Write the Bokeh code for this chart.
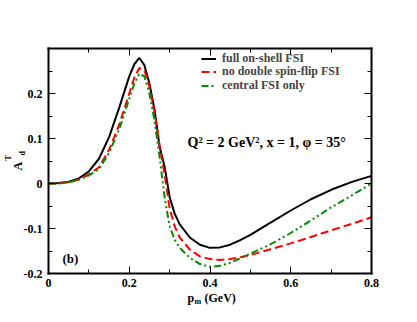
import math
from bokeh.plotting import figure
from bokeh.models import (Range1d, FixedTicker, LinearAxis, Label, Legend, LegendItem)
from bokeh.embed import file_html
from bokeh.resources import INLINE

# ---- data ----
pm = [0.0, 0.025, 0.05, 0.075, 0.1, 0.125, 0.15, 0.175, 0.2, 0.2125, 0.225, 0.2375,
      0.25, 0.2625, 0.275, 0.2875, 0.3, 0.3125, 0.325, 0.35, 0.375, 0.4, 0.425, 0.45,
      0.475, 0.5, 0.55, 0.6, 0.65, 0.7, 0.75, 0.8]
a_full = [0.0, 0.001, 0.004, 0.011, 0.027, 0.055, 0.103, 0.168, 0.238, 0.265, 0.279, 0.263,
          0.222, 0.165, 0.082, 0.038, -0.03, -0.067, -0.091, -0.12, -0.136, -0.143, -0.142, -0.136,
          -0.126, -0.114, -0.087, -0.06, -0.035, -0.014, 0.003, 0.017]
a_nodsf = [0.0, 0.0, 0.003, 0.009, 0.02, 0.036, 0.075, 0.13, 0.2, 0.235, 0.257, 0.252,
           0.215, 0.16, 0.085, 0.02, -0.055, -0.095, -0.12, -0.147, -0.162, -0.168, -0.17, -0.168,
           -0.164, -0.159, -0.146, -0.133, -0.119, -0.104, -0.09, -0.075]
a_central = [0.0, 0.0, 0.003, 0.008, 0.018, 0.032, 0.068, 0.12, 0.188, 0.222, 0.244, 0.238,
             0.2, 0.14, 0.06, -0.03, -0.095, -0.125, -0.143, -0.165, -0.179, -0.185, -0.183, -0.176,
             -0.166, -0.156, -0.135, -0.11, -0.082, -0.053, -0.027, 0.0]

labels = ["full on-shell FSI", "no double spin-flip FSI", "central FSI only"]
x_ticks = [0.0, 0.2, 0.4, 0.6, 0.8]
x_minor = [0.1, 0.3, 0.5, 0.7]
x_tick_labels = ["0", "0.2", "0.4", "0.6", "0.8"]
y_ticks = [-0.2, -0.1, 0.0, 0.1, 0.2]
y_minor = [-0.15, -0.05, 0.05, 0.15, 0.25]
y_tick_labels = ["-0.2", "-0.1", "0", "0.1", "0.2"]
X_LIM = (0.0, 0.8)
Y_LIM = (-0.2, 0.3)

FONT = "Liberation Serif"

# ---- layout (pixels) ----
W, H = 409, 314
BOX_L, BOX_R, BOX_T, BOX_B = 48, 371, 48, 273
sx = (BOX_R - BOX_L) / (X_LIM[1] - X_LIM[0])
sy = (BOX_B - BOX_T) / (Y_LIM[1] - Y_LIM[0])
x_range = Range1d(X_LIM[0] - BOX_L / sx, X_LIM[1] + (W - BOX_R) / sx)
y_range = Range1d(Y_LIM[0] - (H - BOX_B) / sy, Y_LIM[1] + BOX_T / sy)

p = figure(frame_width=W, frame_height=H, output_backend="svg", toolbar_location=None,
           x_range=x_range, y_range=y_range, x_axis_type=None, y_axis_type=None,
           min_border=0)
p.outline_line_color = None
p.background_fill_color = "white"
p.border_fill_color = "white"

xt = FixedTicker(ticks=x_ticks, minor_ticks=x_minor)
yt = FixedTicker(ticks=y_ticks, minor_ticks=y_minor)

def make_axis(ticker, lab, loc, bounds, show):
    ax = LinearAxis(ticker=ticker, fixed_location=loc, bounds=bounds)
    ax.axis_line_width = 2
    ax.axis_line_color = "black"
    ax.axis_line_cap = "square"
    ax.major_tick_in = 7
    ax.major_tick_out = 0
    ax.minor_tick_in = 4
    ax.minor_tick_out = 0
    ax.major_tick_line_width = 1
    ax.minor_tick_line_width = 1
    ax.major_label_text_font = FONT
    ax.major_label_text_font_style = "bold"
    ax.major_label_text_font_size = "12px"
    ax.major_label_text_color = "black"
    ax.major_label_overrides = {t: (l if show else "") for t, l in zip(ticker.ticks, lab)}
    return ax

bottom = make_axis(xt, x_tick_labels, Y_LIM[0], X_LIM, True)
bottom.major_label_standoff = 5
left = make_axis(yt, y_tick_labels, X_LIM[0], Y_LIM, True)
left.major_label_standoff = 6
top = make_axis(xt, x_tick_labels, Y_LIM[1], X_LIM, False)
right = make_axis(yt, y_tick_labels, X_LIM[1], Y_LIM, False)
p.add_layout(bottom, "below")
p.add_layout(left, "left")
p.add_layout(top, "above")
p.add_layout(right, "right")

r1 = p.line(pm, a_full, line_color="black", line_width=2)
r2 = p.line(pm, a_nodsf, line_color="#ff0000", line_width=2, line_dash="8 4")
r3 = p.line(pm, a_central, line_color="#008b00", line_width=2, line_dash="7 3 2 3 2 3")

# one legend per row so that each row sits where the reference puts it
for lbl, rend, bottom_px in zip(labels, [r1, r2, r3], [66, 79, 93]):
    lg = Legend(items=[LegendItem(label=lbl, renderers=[rend])],
                location=(201, H - bottom_px), glyph_width=15, glyph_height=13, label_height=13,
                spacing=0, padding=0, margin=0, label_standoff=6,
                label_text_font=FONT, label_text_font_style="bold", label_text_font_size="12px",
                border_line_alpha=0, background_fill_alpha=0)
    p.add_layout(lg, "center")

def lab(text, px, py, size, angle=0.0):
    p.add_layout(Label(x=px, y=H - py, x_units="screen", y_units="screen", text=text, angle=angle,
                       text_font=FONT, text_font_style="bold", text_font_size=size,
                       text_color="black", text_baseline="alphabetic", text_align="left"))

# annotation
lab("Q² = 2 GeV², x = 1,  φ  = 35°", 187, 142, "14px")
lab("(b)", 62, 258, "13px")
# x axis label p_m (GeV)
lab("p", 187, 297, "12px")
lab("m", 194, 301, "8px")
lab("(GeV)", 204, 297, "12px")
# y axis label A_d^T (rotated)
lab("A", 17, 170, "12px", math.pi / 2)
lab("T", 8, 160, "8px", math.pi / 2)
lab("d", 22, 155, "8px", math.pi / 2)

open("out.html", "w").write(file_html(p, INLINE))
